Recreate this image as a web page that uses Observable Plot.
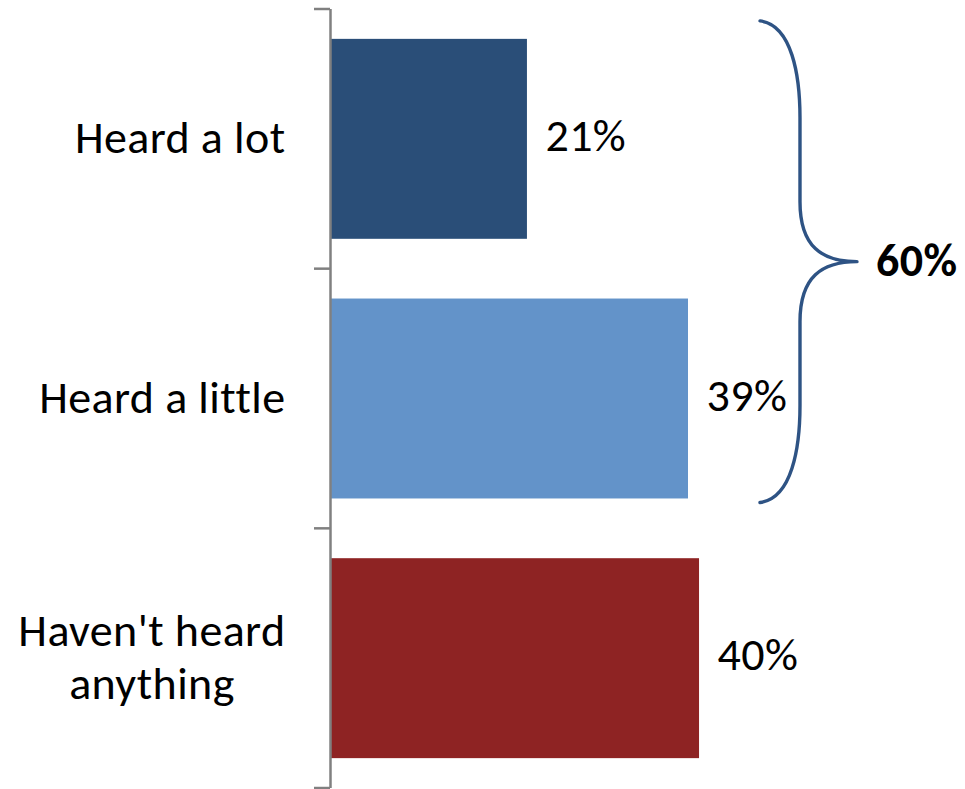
<!DOCTYPE html>
<html><head><meta charset="utf-8">
<script src="https://cdn.jsdelivr.net/npm/d3@7"></script>
<script src="https://cdn.jsdelivr.net/npm/@observablehq/plot@0.6"></script>
<style>body{margin:0;background:#fff} #chart{width:965px;height:789px}</style>
</head><body><div id="chart"></div>
<script>
const categories = ["Heard a lot", "Heard a little", "Haven't heard anything"];
const categoryLabels = ["Heard a lot", "Heard a little", "Haven't heard\nanything"];
const values = [21.4, 38.9, 40.1];
const colors = ["#2A4E78", "#6393C9", "#8E2323"];
const braceCategories = ["Heard a lot", "Heard a little"];

const data = categories.map((c, i) => ({category: c, value: values[i]}));
const braceTotal = d3.sum(data.filter(d => braceCategories.includes(d.category)), d => d.value);
const labelOf = new Map(categories.map((c, i) => [c, categoryLabels[i]]));
const FONT = "Carlito, Lato, sans-serif";
const FS = 46;
const LS = "0.4px";

// axis ticks at band boundaries
function bandEdgeTicks(index, scales, values, dims) {
  const y = scales.y;
  const n = categories.length;
  let edges;
  if (typeof y.bandwidth === "function" && typeof y.step === "function") {
    const bw = y.bandwidth(), step = y.step(), gap = (step - bw) / 2;
    edges = categories.map(c => y(c) - gap);
    edges.push(y(categories[n - 1]) + bw + gap);
  } else {
    const h = (dims.height - dims.marginTop - dims.marginBottom) / n;
    edges = d3.range(n + 1).map(k => dims.marginTop + k * h);
  }
  const x0 = scales.x(0);
  const g = d3.create("svg:g");
  g.selectAll("line").data(edges).join("line")
    .attr("x1", x0 - 16).attr("x2", x0).attr("y1", d => d).attr("y2", d => d)
    .attr("stroke", "#808080").attr("stroke-width", 2.5);
  return g.node();
}

function brace(index, scales, values, dims) {
  const y = scales.y;
  const bw = typeof y.bandwidth === "function" ? y.bandwidth() : 200;
  const top = y(braceCategories[0]) - 18;
  const bottom = y(braceCategories[braceCategories.length - 1]) + bw + 4;
  const mid = (top + bottom) / 2;
  const maxV = d3.max(data.filter(d => braceCategories.includes(d.category)), d => d.value);
  const x0 = scales.x(maxV) + 72;
  const w = 40, tip = 97;
  const p = d3.path();
  p.moveTo(x0, top);
  p.bezierCurveTo(x0 + 32, top + 4, x0 + w, top + 55, x0 + w, top + 97);
  p.lineTo(x0 + w, mid - 60);
  p.bezierCurveTo(x0 + w, mid - 15, x0 + 62, mid, x0 + tip, mid);
  p.moveTo(x0 + tip, mid);
  p.bezierCurveTo(x0 + 62, mid, x0 + w, mid + 15, x0 + w, mid + 60);
  p.lineTo(x0 + w, bottom - 97);
  p.bezierCurveTo(x0 + w, bottom - 55, x0 + 32, bottom - 4, x0, bottom);
  const g = d3.create("svg:g");
  g.append("path").attr("d", p.toString()).attr("fill", "none")
    .attr("stroke", "#2E5384").attr("stroke-width", 3.4).attr("stroke-linecap", "round");
  g.append("text").attr("x", x0 + tip + 19).attr("y", mid)
    .attr("dy", "0.32em").attr("font-weight", "bold").attr("font-size", FS)
    .attr("text-anchor", "start").attr("letter-spacing", LS)
    .attr("font-family", FONT).attr("fill", "#000")
    .text(Math.round(braceTotal) + "%");
  return g.node();
}

const chart = Plot.plot({
  width: 965,
  height: 789,
  marginLeft: 330,
  marginRight: 0,
  marginTop: 9,
  marginBottom: 1,
  style: {fontFamily: FONT, fontSize: FS + "px", color: "#000", background: "#fff", letterSpacing: LS},
  x: {domain: [0, 69], axis: null},
  y: {domain: categories, paddingInner: 0.23, paddingOuter: 0.115, round: false, label: null},
  color: {domain: categories, range: colors},
  marks: [
    Plot.barX(data, {x: "value", y: "category", fill: "category"}),
    Plot.axisY({tickSize: 0, tickPadding: 45, fontSize: FS, lineHeight: 1.15, dy: -3,
      tickFormat: d => labelOf.get(d), label: null}),
    Plot.ruleX([0], {stroke: "#808080", strokeWidth: 2.5}),
    Plot.ruleX([0], {render: bandEdgeTicks}),
    Plot.text(data, {x: "value", y: "category", text: d => Math.round(d.value) + "%",
      textAnchor: "start", dx: 18, dy: -3, fontSize: FS, fill: "#000"}),
    Plot.ruleX([0], {render: brace})
  ]
});
document.getElementById("chart").appendChild(chart);

// center multi-line category labels within their block, block right-aligned
const svg = chart.tagName.toLowerCase() === "svg" ? chart : chart.querySelector("svg");
svg.querySelectorAll('[aria-label="y-axis tick label"] text').forEach(t => {
  const spans = t.querySelectorAll("tspan");
  if (spans.length > 1) {
    const bb = t.getBBox();
    t.setAttribute("text-anchor", "middle");
    spans.forEach(s => s.setAttribute("x", bb.x + bb.width / 2));
  }
});
</script>
</body></html>
